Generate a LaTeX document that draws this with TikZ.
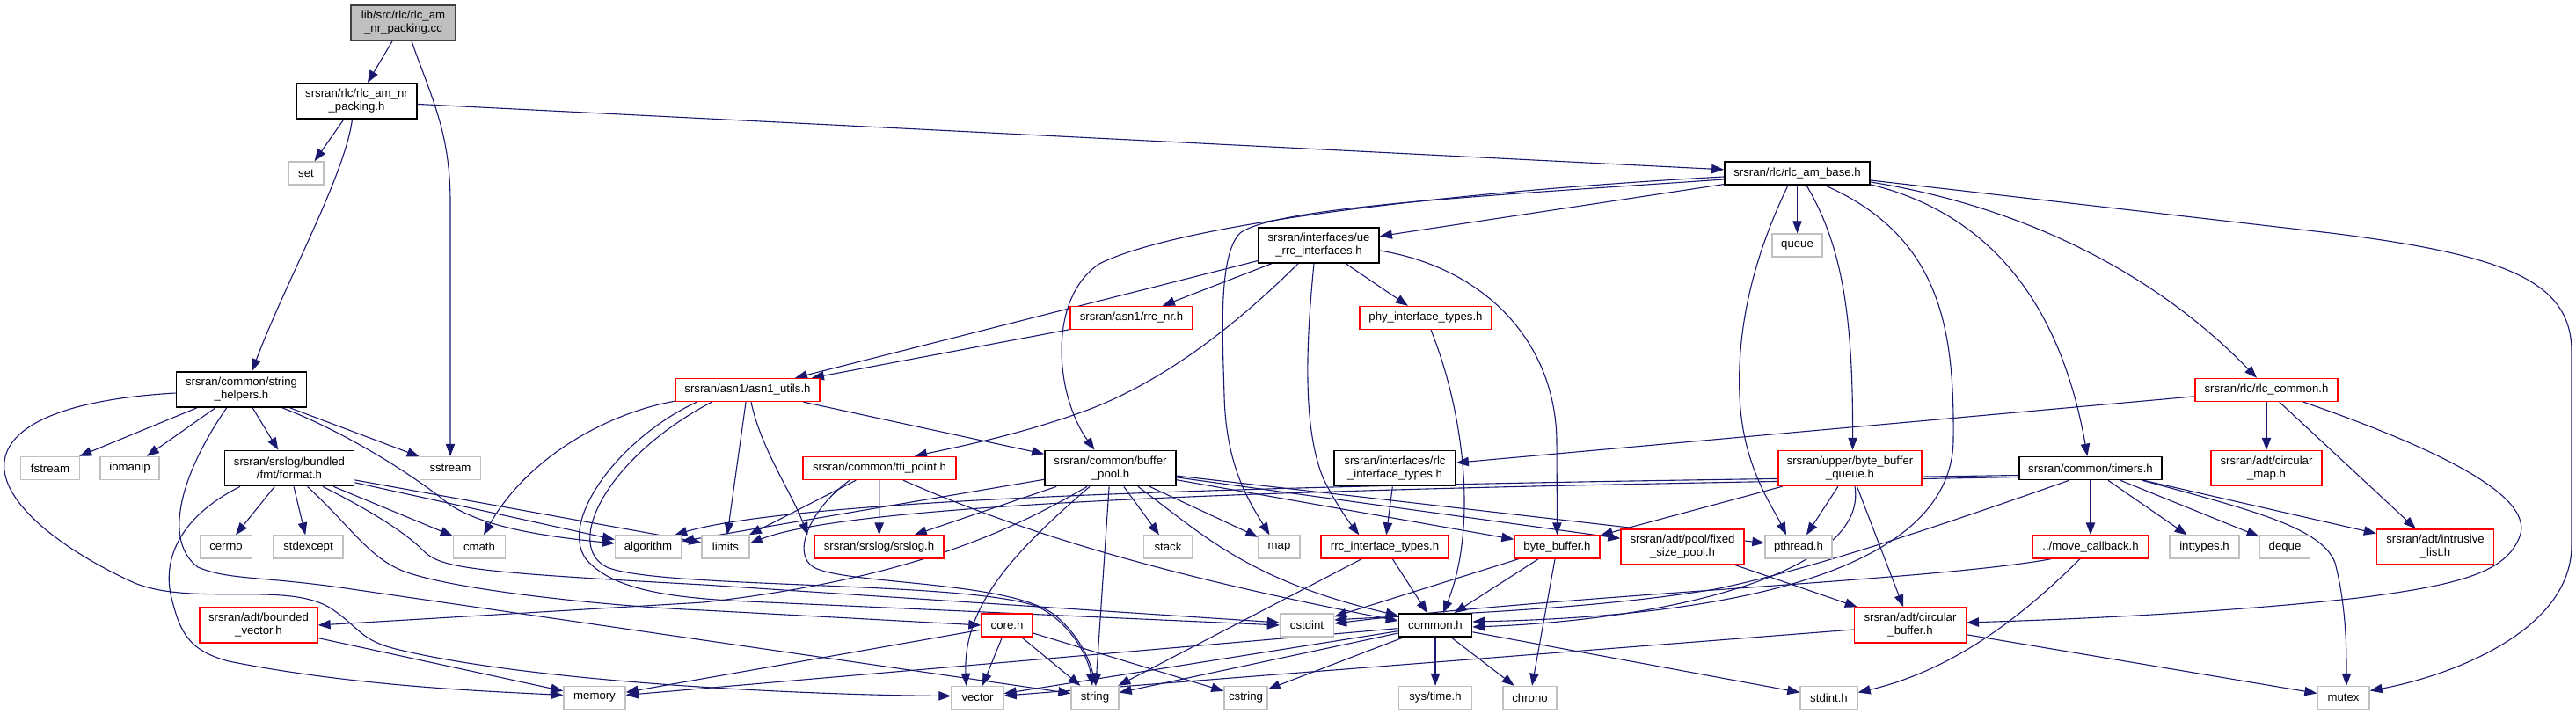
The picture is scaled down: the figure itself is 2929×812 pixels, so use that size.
\documentclass[tikz,border=0pt]{standalone}
\usepackage{fontspec}
\setmainfont{Liberation Sans}
\usetikzlibrary{arrows.meta,calc}
\definecolor{edgeblue}{HTML}{191970}
\definecolor{grayborder}{HTML}{BFBFBF}
\definecolor{ccfill}{HTML}{BFBFBF}
\definecolor{ccborder}{HTML}{404040}
\definecolor{redborder}{HTML}{FF0000}
\pgfdeclarelayer{bg}
\pgfsetlayers{bg,main}
\begin{document}
\begin{tikzpicture}[x=0.5pt,y=-0.5pt,
  font=\fontsize{6.6}{7.5}\selectfont,
  nbox/.style={draw, fill=white, inner sep=0pt, align=center, minimum height=13pt, line width=0.7pt},
  blackbox/.style={nbox, draw=black, line width=0.85pt},
  redbox/.style={nbox, draw=redborder},
  graybox/.style={nbox, draw=grayborder},
  twoline/.style={minimum height=20pt},
  dep/.style={draw=edgeblue, line width=0.55pt, -{Triangle[length=7pt,width=5.2pt]}}]
\useasboundingbox (0,0) rectangle (2929,812);
\begin{pgfonlayer}{bg}
\fill[white] (0,0) rectangle (2929,812);
\end{pgfonlayer}

% nodes
\node[nbox, twoline, fill=ccfill, draw=ccborder, line width=0.85pt, minimum width=59.5pt] (cc) at (458.5,26) {lib/src/rlc/rlc\_am\\\_nr\_packing.cc};
\node[blackbox, twoline, minimum width=68.5pt] (pack) at (405.5,115) {srsran/rlc/rlc\_am\_nr\\\_packing.h};
\node[graybox, minimum width=20pt] (set) at (348,197) {set};
\node[blackbox, twoline, minimum width=74pt] (sh) at (274.5,443) {srsran/common/string\\\_helpers.h};
\node[graybox, minimum width=33.5pt] (fstream) at (57,532.5) {fstream};
\node[graybox, minimum width=33.5pt] (iomanip) at (147.5,532.5) {iomanip};
\node[blackbox, twoline, minimum width=73.5pt] (format) at (329,532.5) {srsran/srslog/bundled\\/fmt/format.h};
\node[graybox, minimum width=34.5pt] (sstream) at (512,532.5) {sstream};
\node[graybox, minimum width=29.5pt] (cerrno) at (257,622) {cerrno};
\node[graybox, minimum width=39.5pt] (stdexcept) at (350.5,622) {stdexcept};
\node[graybox, minimum width=29.5pt] (cmath) at (545,622) {cmath};
\node[graybox, minimum width=37.5pt] (algorithm) at (737,622) {algorithm};
\node[graybox, minimum width=27pt] (limits) at (825,622) {limits};
\node[redbox, twoline, minimum width=67pt] (bvec) at (294,711) {srsran/adt/bounded\\\_vector.h};
\node[graybox, minimum width=35pt] (memory) at (676,793.5) {memory};
\node[blackbox, minimum width=82.5pt] (base) at (2043.5,197) {srsran/rlc/rlc\_am\_base.h};
\node[blackbox, twoline, minimum width=68.5pt] (uerrc) at (1499.5,279) {srsran/interfaces/ue\\\_rrc\_interfaces.h};
\node[graybox, minimum width=28.5pt] (queue) at (2043.5,279) {queue};
\node[redbox, minimum width=69.5pt] (rrcnr) at (1286.5,361.5) {srsran/asn1/rrc\_nr.h};
\node[redbox, minimum width=75pt] (phy) at (1621,361.5) {phy\_interface\_types.h};
\node[redbox, minimum width=82pt] (asn1) at (850,443.5) {srsran/asn1/asn1\_utils.h};
\node[redbox, minimum width=81pt] (rlcc) at (2577,443.5) {srsran/rlc/rlc\_common.h};
\node[redbox, minimum width=87pt] (tti) at (1000,532.5) {srsran/common/tti\_point.h};
\node[blackbox, twoline, minimum width=74.5pt] (bp) at (1262.5,532.5) {srsran/common/buffer\\\_pool.h};
\node[blackbox, twoline, minimum width=69pt] (rlcif) at (1586,532.5) {srsran/interfaces/rlc\\\_interface\_types.h};
\node[redbox, twoline, minimum width=81.5pt] (bbq) at (2103.5,532.5) {srsran/upper/byte\_buffer\\\_queue.h};
\node[blackbox, minimum width=81pt] (timers) at (2377,532.5) {srsran/common/timers.h};
\node[redbox, twoline, minimum width=63pt] (cmap) at (2577,532.5) {srsran/adt/circular\\\_map.h};
\node[redbox, minimum width=73.5pt] (srslog) at (999.5,622) {srsran/srslog/srslog.h};
\node[graybox, minimum width=27.5pt] (stack) at (1328,622) {stack};
\node[graybox, minimum width=23.5pt] (map) at (1454.5,622) {map};
\node[redbox, minimum width=72.5pt] (rrcif) at (1574.5,622) {rrc\_interface\_types.h};
\node[redbox, minimum width=48.5pt] (bb) at (1770.5,622) {byte\_buffer.h};
\node[redbox, twoline, minimum width=70pt] (fsp) at (1913,622) {srsran/adt/pool/fixed\\\_size\_pool.h};
\node[graybox, minimum width=38pt] (pthread) at (2045,622) {pthread.h};
\node[redbox, minimum width=66pt] (mcb) at (2377,622) {../move\_callback.h};
\node[graybox, minimum width=39.5pt] (inttypes) at (2506.5,622) {inttypes.h};
\node[graybox, minimum width=28.75pt] (deque) at (2598,622) {deque};
\node[redbox, twoline, minimum width=66.5pt] (il) at (2769,622) {srsran/adt/intrusive\\\_list.h};
\node[redbox, minimum width=29pt] (core) at (1145,711) {core.h};
\node[graybox, minimum width=30.5pt] (cstdint) at (1486,711) {cstdint};
\node[blackbox, minimum width=41.5pt] (common) at (1632,711) {common.h};
\node[redbox, twoline, minimum width=63.25pt] (cb) at (2172,711) {srsran/adt/circular\\\_buffer.h};
\node[graybox, minimum width=29.5pt] (vector) at (1111.5,793.5) {vector};
\node[graybox, minimum width=27pt] (string) at (1245,793.5) {string};
\node[graybox, minimum width=24.5pt] (cstring) at (1416.5,793.5) {cstring};
\node[graybox, minimum width=41.5pt] (systime) at (1632,793.5) {sys/time.h};
\node[graybox, minimum width=30.5pt] (chrono) at (1739.5,793.5) {chrono};
\node[graybox, minimum width=32.5pt] (stdint) at (2079.5,793.5) {stdint.h};
\node[graybox, minimum width=29.5pt] (mutex) at (2664.5,793.5) {mutex};

\begin{pgfonlayer}{bg}
% cc
\draw[dep] (cc) -- (pack);
\draw[dep] ($(cc.south)+(9.5,0)$) .. controls (490,110) and (512,150) .. (512,230) -- (sstream.north);
% pack
\draw[dep] (pack) -- (set);
\draw[dep] ($(pack.south)+(-5,0)$) .. controls (392,200) and (325,320) .. ($(sh.north)+(12,0)$);
\draw[dep] (pack) -- (base);
% string_helpers
\draw[dep] (sh) -- (fstream);
\draw[dep] (sh) -- (iomanip);
\draw[dep] (sh) -- (format);
\draw[dep] (sh) -- (sstream);
\draw[dep] ($(sh.south)+(46.5,0)$) .. controls (390,490) and (470,540) .. (510,573) .. controls (550,600) and (620,610) .. ($(algorithm.west)+(0,-4)$);
\draw[dep] ($(sh.south)+(-16.8,0)$) .. controls (205,540) and (185,615) .. (225,645) .. controls (260,660) and (300,655) .. (400,670) -- ($(string.west)+(0,-5)$);
\draw[dep] ($(sh.west)+(0,4)$) .. controls (60,455) and (0,490) .. (5,535) .. controls (10,580) and (80,630) .. (153,663) .. controls (220,690) and (330,660) .. (378,693) .. controls (410,715) and (410,728) .. (450,738) .. controls (600,775) and (900,790) .. ($(vector.west)+(0,-2)$);
% format
\draw[dep] (format) -- (cerrno);
\draw[dep] (format) -- (stdexcept);
\draw[dep] (format) -- (cmath);
\draw[dep] (format) -- (algorithm);
\draw[dep] (format) -- (limits);
\draw[dep] ($(format.south)+(20.5,0)$) .. controls (400,600) and (420,635) .. (460,650) .. controls (520,672) and (700,690) .. (800,694) -- (core.west);
\draw[dep] ($(format.south)+(38,0)$) .. controls (420,580) and (460,605) .. (480,625) .. controls (500,645) and (520,650) .. (800,665) -- ($(cstdint.west)+(0,-3)$);
\draw[dep] ($(format.south)+(-56,0)$) .. controls (200,590) and (185,640) .. (195,680) .. controls (205,720) and (215,740) .. (260,752) .. controls (400,780) and (550,786) .. ($(memory.west)+(0,-3)$);
\draw[dep] (bvec) -- (memory);
% rlc_am_base
\draw[dep] (base) -- (uerrc);
\draw[dep] (base) -- (queue);
\draw[dep] ($(base.west)+(0,4)$) .. controls (1700,215) and (1350,250) .. (1250,300) .. controls (1190,340) and (1200,450) .. ($(bp.north)+(-18,0)$);
\draw[dep] ($(base.west)+(0,7)$) .. controls (1700,222) and (1450,235) .. (1410,265) .. controls (1385,290) and (1390,380) .. (1392,450) .. controls (1394,530) and (1420,570) .. ($(map.north)+(-11,0)$);
\draw[dep] ($(base.south)+(-10.5,0)$) .. controls (1990,300) and (1975,380) .. (1978,450) .. controls (1981,530) and (2015,575) .. ($(pthread.north)+(-14,0)$);
\draw[dep] ($(base.south)+(10.5,0)$) .. controls (2095,280) and (2107,360) .. ($(bbq.north)+(3,0)$);
\draw[dep] ($(base.south)+(31.5,0)$) .. controls (2210,270) and (2222,380) .. (2221,500) .. controls (2220,640) and (2000,700) .. ($(common.east)+(0,-4)$);
\draw[dep] ($(base.east)+(0,10)$) .. controls (2300,235) and (2450,310) .. ($(rlcc.north)+(-11,0)$);
\draw[dep] ($(base.south east)+(0,-1)$) .. controls (2250,240) and (2340,330) .. ($(timers.north)+(-3.6,0)$);
\draw[dep] ($(base.east)+(0,8)$) -- (2650,265) .. controls (2850,290) and (2924,320) .. (2924,400) -- (2924,620) .. controls (2924,720) and (2780,770) .. ($(mutex.east)+(0,-8)$);
% ue_rrc_interfaces
\draw[dep] (uerrc) -- (rrcnr);
\draw[dep] (uerrc) -- (asn1);
\draw[dep] (uerrc) -- (phy);
\draw[dep] ($(uerrc.south)+(-23.5,0)$) .. controls (1410,365) and (1330,430) .. (1240,465) .. controls (1160,495) and (1080,510) .. ($(tti.north)+(40,0)$);
\draw[dep] ($(uerrc.south)+(-5.5,0)$) .. controls (1484,400) and (1482,490) .. (1505,545) .. controls (1520,575) and (1535,595) .. ($(rrcif.north west)+(44,0)$);
\draw[dep] ($(uerrc.east)+(0,6)$) .. controls (1690,305) and (1768,390) .. (1770,500) -- (bb.north);
\draw[dep] (rrcnr) -- (asn1);
\draw[dep] ($(phy.south)+(6,0)$) .. controls (1665,470) and (1680,600) .. ($(common.north)+(9,0)$);
% asn1_utils
\draw[dep] ($(asn1.south west)+(0,-1)$) .. controls (690,470) and (600,520) .. ($(cmath.north)+(5,0)$);
\draw[dep] (asn1) -- (limits);
\draw[dep] ($(asn1.south)+(4,0)$) .. controls (865,510) and (900,560) .. ($(srslog.north west)+(-7,0)$);
\draw[dep] (asn1) -- (bp);
\draw[dep] ($(asn1.south west)+(25,0)$) .. controls (700,500) and (630,600) .. (670,640) .. controls (700,670) and (760,680) .. (850,684) -- (cstdint.west);
\draw[dep] ($(asn1.south west)+(42,0)$) .. controls (690,520) and (640,620) .. (690,645) .. controls (750,670) and (1100,660) .. (1180,690) .. controls (1220,710) and (1238,750) .. ($(string.north)+(-3,0)$);
% tti_point
\draw[dep] (tti) -- (limits);
\draw[dep] (tti) -- (srslog);
\draw[dep] ($(tti.south)+(27,0)$) .. controls (1150,600) and (1300,650) .. ($(common.west)+(0,-5)$);
\draw[dep] ($(tti.south)+(-34,0)$) .. controls (920,580) and (900,630) .. (925,645) .. controls (960,665) and (1150,660) .. (1200,700) .. controls (1230,725) and (1240,755) .. ($(string.north)+(1,0)$);
% buffer_pool
\draw[dep] (bp) -- (algorithm);
\draw[dep] (bp) -- (srslog);
\draw[dep] ($(bp.south)+(-26.5,0)$) .. controls (1140,610) and (1020,660) .. (800,685) -- (bvec.east);
\draw[dep] ($(bp.south)+(-23.5,0)$) .. controls (1150,630) and (1095,690) .. ($(vector.north)+(-13,0)$);
\draw[dep] (bp) -- (string);
\draw[dep] (bp) -- (stack);
\draw[dep] (bp) -- (map);
\draw[dep] ($(bp.south)+(31.5,0)$) .. controls (1370,610) and (1420,660) .. ($(common.north west)+(0,3)$);
\draw[dep] (bp) -- (bb);
\draw[dep] (bp) -- (fsp);
\draw[dep] (bp) -- (pthread);
% interface types
\draw[dep] (rlcif) -- (rrcif);
\draw[dep] (rrcif) -- (common);
\draw[dep] (rrcif) -- (string);
\draw[dep] (rlcc) -- (rlcif);
% byte buffer queue
\draw[dep] (bbq) -- (bb);
\draw[dep] (bbq) -- (pthread);
\draw[dep] (bbq) -- (cb);
\draw[dep] ($(bbq.south)+(5.5,0)$) .. controls (2125,650) and (1900,705) .. ($(common.east)+(0,2)$);
% byte_buffer
\draw[dep] (bb) -- (common);
\draw[dep] (bb) -- (chrono);
\draw[dep] (bb) -- (cstdint);
\draw[dep] (fsp) -- (cb);
% rlc_common
\draw[dep] (rlcc) -- (cmap);
\draw[dep] (rlcc) -- (il);
\draw[dep] ($(rlcc.south)+(42,0)$) .. controls (2800,520) and (2880,570) .. (2865,610) .. controls (2850,650) and (2800,665) .. (2681,680) .. controls (2500,700) and (2300,706) .. ($(cb.east)+(0,-3)$);
% timers
\draw[dep] ($(timers.west)+(0,8)$) .. controls (1800,548) and (950,555) .. ($(algorithm.north east)+(-8,0)$);
\draw[dep] ($(timers.west)+(0,10)$) .. controls (1800,552) and (1000,560) .. ($(limits.east)+(0,-4)$);
\draw[dep] ($(timers.south)+(-24.5,0)$) .. controls (2200,600) and (2050,650) .. (1950,670) .. controls (1800,695) and (1600,700) .. ($(cstdint.east)+(0,-6)$);
\draw[dep] (timers) -- (mcb);
\draw[dep] (timers) -- (inttypes);
\draw[dep] (timers) -- (deque);
\draw[dep] (timers) -- (il);
\draw[dep] ($(timers.south)+(59,0)$) .. controls (2560,580) and (2640,600) .. (2655,640) .. controls (2668,690) and (2668,740) .. ($(mutex.north)+(3.5,0)$);
% move_callback
\draw[dep] ($(mcb.south)+(-45,0)$) .. controls (2200,660) and (1800,675) .. ($(cstdint.east)+(0,-2)$);
\draw[dep] ($(mcb.south)+(-12,0)$) .. controls (2310,690) and (2230,760) .. ($(stdint.east)+(0,-6)$);
% circular_buffer
\draw[dep] (cb) -- (mutex);
\draw[dep] (cb) -- (vector);
% core
\draw[dep] (core) -- (memory);
\draw[dep] (core) -- (vector);
\draw[dep] (core) -- (string);
\draw[dep] (core) -- (cstring);
% common
\draw[dep] (common) -- (systime);
\draw[dep] (common) -- (chrono);
\draw[dep] (common) -- (stdint);
\draw[dep] (common) -- (cstring);
\draw[dep] (common) -- (string);
\draw[dep] (common) -- (vector);
\draw[dep] (common) -- (memory);
\end{pgfonlayer}
\end{tikzpicture}
\end{document}
